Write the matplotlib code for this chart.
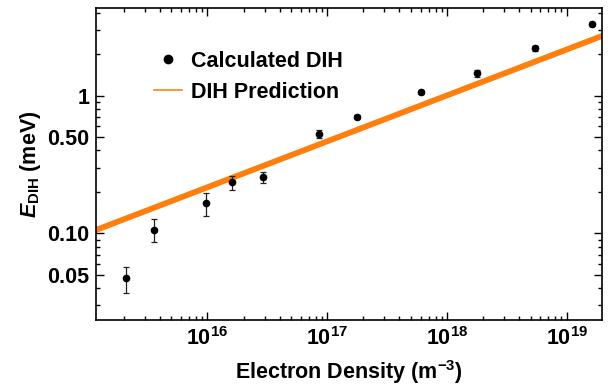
import matplotlib.pyplot as plt
import numpy as np
from matplotlib.lines import Line2D
from matplotlib.ticker import FixedLocator, LogLocator, NullFormatter, FixedFormatter

plt.rcParams['font.family'] = ['Liberation Sans', 'DejaVu Sans']
plt.rcParams['font.weight'] = 'bold'
plt.rcParams['mathtext.fontset'] = 'custom'
plt.rcParams['mathtext.rm'] = 'Liberation Sans:bold'
plt.rcParams['mathtext.it'] = 'Liberation Sans:bold:italic'
plt.rcParams['mathtext.bf'] = 'Liberation Sans:bold'

# Calculated DIH energies
density = [2.09e15, 3.56e15, 9.66e15, 1.61e16, 2.92e16, 8.54e16,
           1.77e17, 6.05e17, 1.76e18, 5.46e18, 1.61e19]
energy = [0.047, 0.106, 0.165, 0.235, 0.258, 0.524,
          0.703, 1.064, 1.455, 2.21, 3.30]
err_lo = [0.010, 0.020, 0.031, 0.029, 0.026, 0.030,
          0.020, 0.030, 0.080, 0.080, 0.060]
err_hi = [0.010, 0.020, 0.030, 0.026, 0.021, 0.035,
          0.020, 0.030, 0.090, 0.090, 0.060]

# DIH prediction line (end points)
pred_x = [1.0e15, 2.5e19]
pred_y = [0.100, 2.95]

fig, ax = plt.subplots(figsize=(6.13, 3.85), dpi=100)
fig.subplots_adjust(left=0.157, right=0.982, top=0.979, bottom=0.169)

ax.plot(pred_x, pred_y, color='#ff7f0e', lw=4.2, zorder=2)
ax.errorbar(density, energy, yerr=[err_lo, err_hi], fmt='o', color='black',
            ecolor='#222222', ms=4.5, elinewidth=0.9, capsize=2.5,
            capthick=0.9, zorder=3)

ax.set_xscale('log')
ax.set_yscale('log')
ax.set_xlim(1.18e15, 1.96e19)
ax.set_ylim(0.0234, 4.34)

ax.yaxis.set_major_locator(FixedLocator([0.05, 0.1, 0.5, 1]))
ax.yaxis.set_major_formatter(FixedFormatter(['0.05', '0.10', '0.50', '1']))
ax.yaxis.set_minor_locator(LogLocator(base=10, subs=np.arange(2, 10)))
ax.yaxis.set_minor_formatter(NullFormatter())
ax.xaxis.set_minor_locator(LogLocator(base=10, subs=np.arange(2, 10)))
ax.xaxis.set_minor_formatter(NullFormatter())

ax.tick_params(which='both', direction='in', top=True, right=True,
               labelsize=15.5, width=1)
ax.tick_params(which='major', length=6, pad=5)
ax.tick_params(which='minor', length=3)
for s in ax.spines.values():
    s.set_linewidth(1.2)

ax.set_xlabel('Electron Density (m$^{-3}$)', fontsize=15.5, fontweight='bold',
              labelpad=6)
ax.set_ylabel(r'$\mathit{E}_{\mathregular{DIH}}$ (meV)', fontsize=15.5,
              fontweight='bold', labelpad=3)

handles = [Line2D([], [], marker='o', color='black', ls='none', ms=6),
           Line2D([], [], color='#ff7f0e', lw=1.2)]
ax.legend(handles, ['Calculated DIH', 'DIH Prediction'], loc='upper left',
          bbox_to_anchor=(0.075, 0.925), frameon=False, fontsize=15.5,
          handlelength=1.3, handletextpad=0.45, labelspacing=0.45)

plt.savefig('out.png', dpi=100)
